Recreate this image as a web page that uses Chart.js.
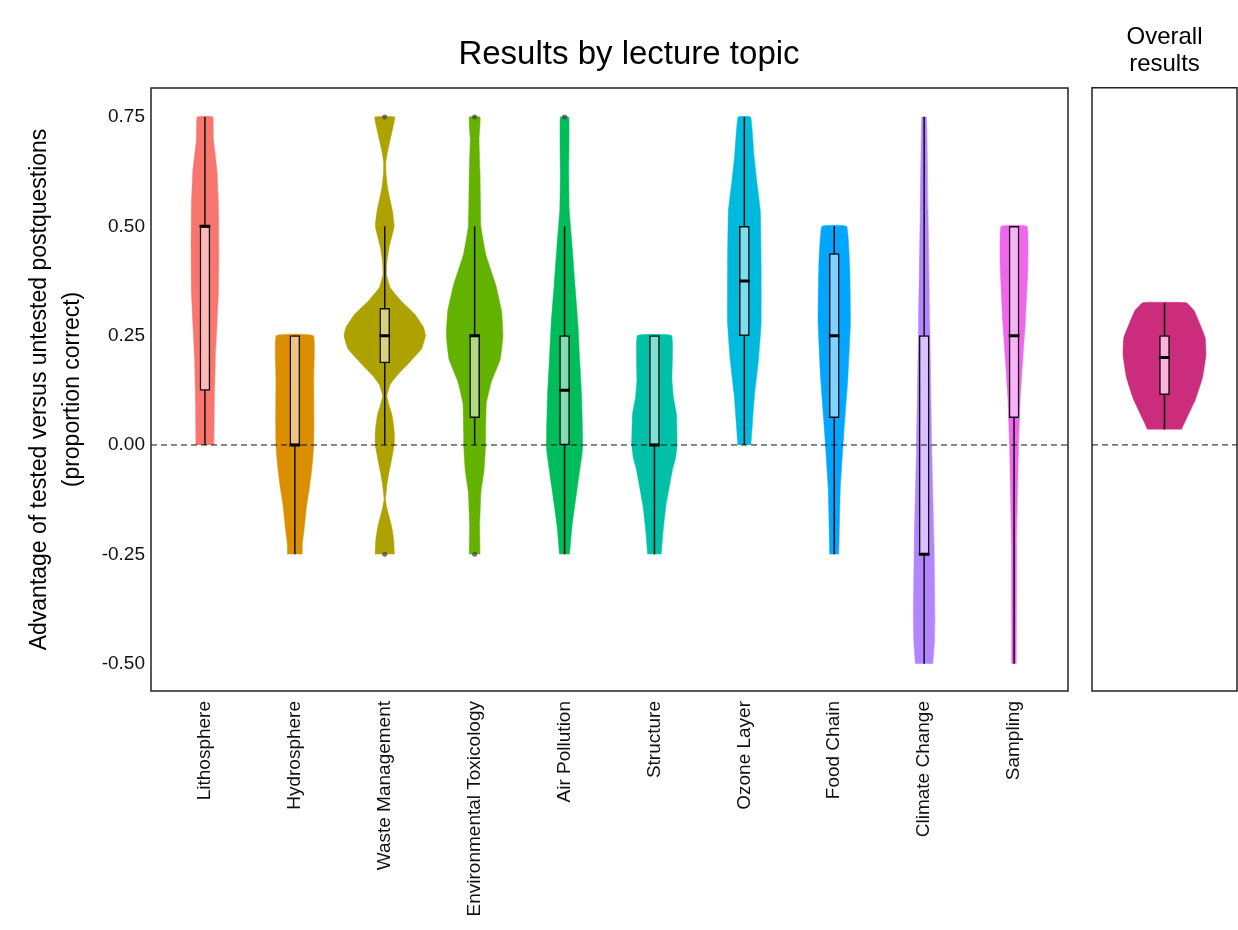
<!DOCTYPE html>
<html>
<head>
<meta charset="utf-8">
<script src="https://cdn.jsdelivr.net/npm/chart.js@4.4.0/dist/chart.umd.min.js"></script>
<style>
  html, body { margin: 0; padding: 0; background: #fff; overflow: hidden; }
  #main { position: absolute; left: 0; top: 0; width: 1238px; height: 930px; }
  #overall { position: absolute; left: 1085px; top: 0; width: 160px; height: 930px; }
</style>
</head>
<body>
<div id="main"><canvas id="mainChart"></canvas></div>
<div id="overall"><canvas id="overallChart"></canvas></div>
<script>
// Categories and axis ticks
const topics = ['Lithosphere', 'Hydrosphere', 'Waste Management', 'Environmental Toxicology', 'Air Pollution',
  'Structure', 'Ozone Layer', 'Food Chain', 'Climate Change', 'Sampling'];
const yTicks = [-0.5, -0.25, 0, 0.25, 0.5, 0.75];

// Violin outlines: value levels and half widths (in category units)
const lithosphereLevels = [0, 0.1, 0.2, 0.28, 0.35, 0.45, 0.55, 0.625, 0.7, 0.75];
const lithosphereWidths = [0.10, 0.105, 0.116, 0.135, 0.15, 0.154, 0.15, 0.135, 0.094, 0.086];

const hydrosphereLevels = [-0.25, -0.225, -0.19, -0.14, -0.1, -0.057, -0.03, 0, 0.05, 0.15, 0.25];
const hydrosphereWidths = [0.082, 0.084, 0.105, 0.13, 0.16, 0.187, 0.2, 0.21, 0.213, 0.21, 0.206];

const wasteLevels = [-0.25, -0.217, -0.19, -0.166, -0.145, -0.124, -0.09, -0.065, -0.04, 0,
  0.028, 0.05, 0.07, 0.09, 0.112, 0.138, 0.16, 0.19, 0.22, 0.25,
  0.27, 0.30, 0.33, 0.36, 0.39, 0.42, 0.45, 0.5, 0.535, 0.56,
  0.59, 0.62, 0.645, 0.67, 0.70, 0.73, 0.75];
const wasteWidths = [0.107, 0.1, 0.08, 0.052, 0.025, 0.008, 0.025, 0.045, 0.07, 0.105,
  0.107, 0.095, 0.08, 0.05, 0.024, 0.06, 0.14, 0.28, 0.41, 0.453,
  0.43, 0.33, 0.18, 0.06, 0.02, 0.025, 0.047, 0.105, 0.086, 0.06,
  0.03, 0.015, 0.012, 0.03, 0.063, 0.095, 0.11];

const envToxLevels = [-0.25, -0.184, -0.108, -0.057, 0, 0.028, 0.095, 0.145, 0.196, 0.25, 0.306, 0.366, 0.435, 0.5, 0.62, 0.7, 0.75];
const envToxWidths = [0.06, 0.056, 0.07, 0.105, 0.122, 0.122, 0.13, 0.187, 0.285, 0.315, 0.3, 0.235, 0.125, 0.07, 0.06, 0.049, 0.06];

const airLevels = [-0.25, -0.184, -0.1, -0.014, 0.028, 0.112, 0.196, 0.28, 0.366, 0.45, 0.54, 0.62, 0.75];
const airWidths = [0.056, 0.084, 0.14, 0.198, 0.2, 0.19, 0.168, 0.148, 0.116, 0.086, 0.052, 0.047, 0.047];

const structureLevels = [-0.25, -0.2, -0.14, -0.057, -0.03, 0, 0.07, 0.11, 0.15, 0.25];
const structureWidths = [0.075, 0.095, 0.127, 0.2, 0.235, 0.252, 0.245, 0.21, 0.195, 0.19];

const ozoneLevels = [0, 0.05, 0.112, 0.196, 0.28, 0.408, 0.535, 0.6, 0.66, 0.75];
const ozoneWidths = [0.073, 0.09, 0.112, 0.158, 0.187, 0.187, 0.178, 0.14, 0.108, 0.07];

const foodLevels = [-0.25, -0.1, 0.028, 0.155, 0.28, 0.408, 0.5];
const foodWidths = [0.05, 0.067, 0.107, 0.152, 0.18, 0.172, 0.137];

const climateLevels = [-0.5, -0.45, -0.395, -0.226, 0, 0.28, 0.535, 0.75];
const climateWidths = [0.097, 0.115, 0.12, 0.11, 0.084, 0.062, 0.043, 0.026];

const samplingLevels = [-0.5, -0.226, 0, 0.112, 0.28, 0.408, 0.5];
const samplingWidths = [0.025, 0.028, 0.05, 0.07, 0.125, 0.154, 0.144];

const overallLevels = [0.035, 0.063, 0.103, 0.154, 0.205, 0.245, 0.307, 0.325];
const overallWidths = [0.14, 0.187, 0.255, 0.315, 0.343, 0.337, 0.245, 0.18];

// Box plot statistics per topic
const boxQ1 = [0.125, 0, 0.1875, 0.0625, 0, 0, 0.25, 0.0625, -0.25, 0.0625];
const boxMedian = [0.5, 0, 0.25, 0.25, 0.125, 0, 0.375, 0.25, -0.25, 0.25];
const boxQ3 = [0.5, 0.25, 0.3125, 0.25, 0.25, 0.25, 0.5, 0.4375, 0.25, 0.5];
const whiskerLow = [0, -0.25, 0, 0, -0.25, -0.25, 0, -0.25, -0.5, -0.5];
const whiskerHigh = [0.75, 0.25, 0.5, 0.5, 0.5, 0.25, 0.75, 0.5, 0.75, 0.5];

// Outliers: topic number and value
const outlierTopic = [3, 3, 4, 4, 5];
const outlierValue = [0.75, -0.25, 0.75, -0.25, 0.75];

// Overall results box plot
const overallQ1 = [0.115];
const overallMedian = [0.2];
const overallQ3 = [0.25];
const overallLow = [0.035];
const overallHigh = [0.325];

// Colours
const violinColors = ['#F8766D', '#DB8E00', '#AEA200', '#64B200', '#00BD5C', '#00C1A7', '#00BADE', '#00A6FF', '#B385FF', '#EF67EB'];
const boxColors = ['#FCBBB6', '#EDC77F', '#D7D17F', '#B2D97F', '#80DEAE', '#80E0D3', '#80DDEF', '#80D3FF', '#D9C2FF', '#F7B3F5'];
const overallColor = '#CB2C7C';
const overallBoxColor = '#FDB2DC';

const allLevels = [lithosphereLevels, hydrosphereLevels, wasteLevels, envToxLevels, airLevels,
  structureLevels, ozoneLevels, foodLevels, climateLevels, samplingLevels];
const allWidths = [lithosphereWidths, hydrosphereWidths, wasteWidths, envToxWidths, airWidths,
  structureWidths, ozoneWidths, foodWidths, climateWidths, samplingWidths];

const yMin = -0.5625;
const yMax = 0.8163;

Chart.defaults.font.family = "'Liberation Sans', Arial, sans-serif";
Chart.defaults.color = '#111';

// closed outline: up the left side, down the right side
function outline(center, levels, widths) {
  const left = levels.map((v, i) => ({x: center - widths[i], y: v}));
  const right = levels.map((v, i) => ({x: center + widths[i], y: v})).reverse();
  return left.concat(right);
}

function buildDatasets(levelsList, widthsList, colors, boxCols, q1, med, q3, lo, hi, medHalf, xMin, xMax) {
  const sets = [];
  levelsList.forEach((levels, i) => {
    sets.push({
      data: outline(i + 1, levels, widthsList[i]),
      showLine: true, fill: 'shape', tension: 0.1,
      backgroundColor: colors[i], borderColor: colors[i], borderWidth: 0.5,
      pointRadius: 0, order: 5
    });
  });
  const whiskers = [];
  const medians = [];
  const boxes = [];
  q1.forEach((q, i) => {
    whiskers.push({x: i + 1, y: lo[i]}, {x: i + 1, y: hi[i]}, {x: i + 1, y: null});
    medians.push({x: i + 1 - medHalf, y: med[i]}, {x: i + 1 + medHalf, y: med[i]}, {x: i + 1, y: null});
    boxes.push({x: i + 1, y: [q, q3[i]]});
  });
  sets.push({data: whiskers, showLine: true, spanGaps: false, borderColor: '#111', borderWidth: 1.5, pointRadius: 0, order: 4});
  sets.push({
    type: 'bar', data: boxes, barThickness: 10, backgroundColor: boxCols,
    borderColor: '#111', borderWidth: 1.5, borderSkipped: false, order: 3
  });
  sets.push({data: medians, showLine: true, spanGaps: false, borderColor: '#000', borderWidth: 3, pointRadius: 0, order: 2});
  sets.push({
    data: [{x: xMin, y: 0}, {x: xMax, y: 0}], showLine: true, borderColor: '#111',
    borderWidth: 1, borderDash: [6, 4], pointRadius: 0, order: 1
  });
  return sets;
}

const framePlugin = {
  id: 'frame',
  afterDatasetsDraw(chart) {
    const {ctx, chartArea: a} = chart;
    ctx.save();
    ctx.strokeStyle = '#222';
    ctx.lineWidth = 1.5;
    ctx.strokeRect(a.left, a.top, a.right - a.left, a.bottom - a.top);
    ctx.restore();
  }
};

const mainSets = buildDatasets(allLevels, allWidths, violinColors, boxColors,
  boxQ1, boxMedian, boxQ3, whiskerLow, whiskerHigh, 0.06, 0.4, 10.6);
mainSets.push({
  data: outlierTopic.map((t, i) => ({x: t, y: outlierValue[i]})),
  pointRadius: 2.5, backgroundColor: 'rgba(70,70,70,0.75)', borderWidth: 0, order: 0
});

new Chart(document.getElementById('mainChart'), {
  type: 'scatter',
  data: {datasets: mainSets},
  options: {
    responsive: true,
    maintainAspectRatio: false,
    animation: false,
    events: [],
    layout: {padding: {left: 20, right: 0, top: 0, bottom: 0}},
    plugins: {
      legend: {display: false},
      tooltip: {enabled: false},
      title: {
        display: true,
        text: 'Results by lecture topic',
        color: '#000',
        font: {size: 33, weight: 'normal', lineHeight: 1.2},
        padding: {top: 35.2, bottom: 13.2}
      }
    },
    scales: {
      x: {
        type: 'linear', min: 0.4, max: 10.6, offset: false,
        afterBuildTicks: (s) => { s.ticks = topics.map((t, i) => ({value: i + 1})); },
        ticks: {
          callback: (v) => topics[Math.round(v) - 1],
          autoSkip: false, minRotation: 90, maxRotation: 90,
          font: {size: 19}, padding: 10, color: '#111'
        },
        grid: {display: false, drawTicks: false, offset: false},
        border: {display: false},
        afterFit: (s) => { s.height = 239; }
      },
      y: {
        type: 'linear', min: yMin, max: yMax,
        afterBuildTicks: (s) => { s.ticks = yTicks.map(v => ({value: v})); },
        ticks: {callback: (v) => v.toFixed(2), font: {size: 19}, padding: 6, color: '#111'},
        grid: {display: false, drawTicks: false},
        border: {display: false},
        title: {
          display: true,
          text: ['Advantage of tested versus untested postquestions', '(proportion correct)'],
          color: '#000',
          font: {size: 23, lineHeight: 1.43},
          padding: {top: 3.5, bottom: 0}
        },
        afterFit: (s) => { s.width = 131; }
      },
      yRight: {
        position: 'right', display: true,
        ticks: {display: false},
        grid: {display: false, drawTicks: false},
        border: {display: false},
        afterFit: (s) => { s.width = 170; }
      }
    }
  },
  plugins: [framePlugin]
});

const overallSets = buildDatasets([overallLevels], [overallWidths], [overallColor], [overallBoxColor],
  overallQ1, overallMedian, overallQ3, overallLow, overallHigh, 0.045, 0.4, 1.6);

new Chart(document.getElementById('overallChart'), {
  type: 'scatter',
  data: {datasets: overallSets},
  options: {
    responsive: true,
    maintainAspectRatio: false,
    animation: false,
    events: [],
    layout: {padding: {left: 7, right: 8, top: 0, bottom: 239}},
    plugins: {
      legend: {display: false},
      tooltip: {enabled: false},
      title: {
        display: true,
        text: ['Overall', 'results'],
        color: '#000',
        font: {size: 24, weight: 'normal', lineHeight: 1.12},
        padding: {top: 24, bottom: 10}
      }
    },
    scales: {
      x: {type: 'linear', min: 0.4, max: 1.6, offset: false, display: false, grid: {offset: false}},
      y: {type: 'linear', min: yMin, max: yMax, display: false}
    }
  },
  plugins: [framePlugin]
});
</script>
</body>
</html>
